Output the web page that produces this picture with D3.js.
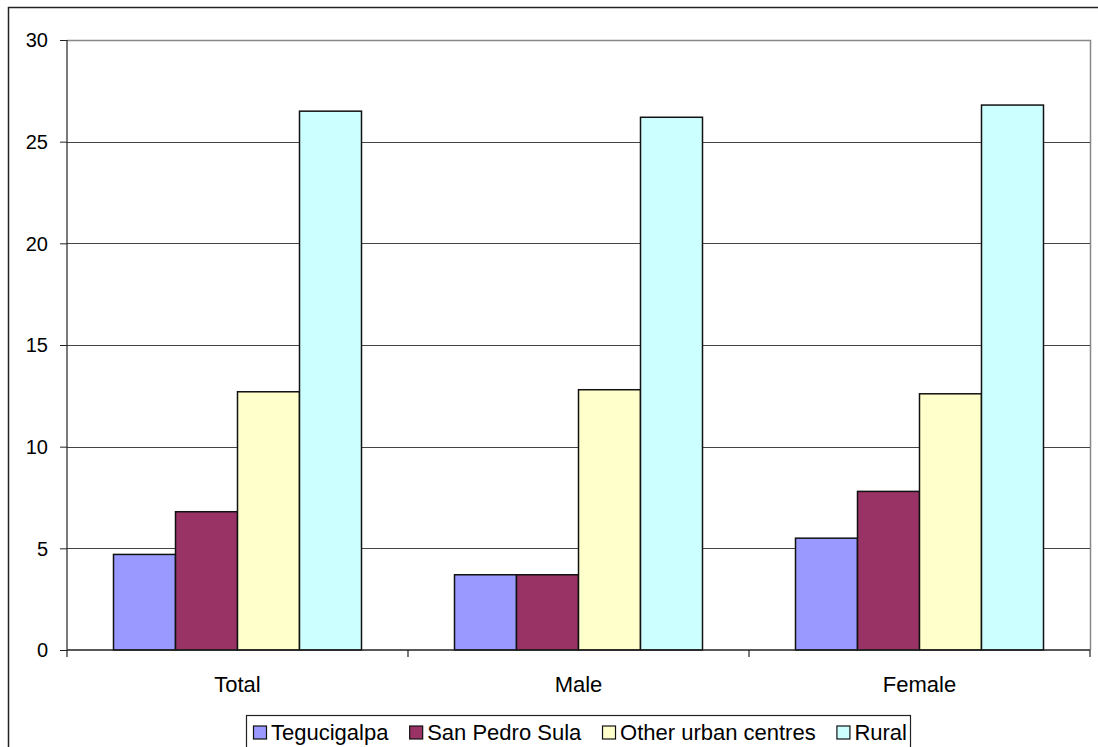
<!DOCTYPE html>
<html>
<head>
<meta charset="utf-8">
<script src="https://cdn.jsdelivr.net/npm/d3@7"></script>
<style>
  html, body { margin: 0; padding: 0; background: #fff; }
  svg { display: block; font-family: Arial, "Liberation Sans", sans-serif; }
</style>
</head>
<body>
<svg id="chart" width="1098" height="747"></svg>
<script>
// Categories, series and values
const categories = ["Total", "Male", "Female"];
const seriesNames = ["Tegucigalpa", "San Pedro Sula", "Other urban centres", "Rural"];
const tegucigalpa = [4.7, 3.7, 5.5];
const sanPedroSula = [6.8, 3.7, 7.8];
const otherUrban = [12.7, 12.8, 12.6];
const rural = [26.5, 26.2, 26.8];
const yTicks = [0, 5, 10, 15, 20, 25, 30];
const seriesColors = ["#9999FF", "#993366", "#FFFFCC", "#CCFFFF"];

const seriesValues = [tegucigalpa, sanPedroSula, otherUrban, rural];

const svg = d3.select("#chart");
const W = 1098, H = 747;
svg.append("rect").attr("width", W).attr("height", H).attr("fill", "#fff");

// Outer chart frame (runs off the right and bottom edges)
svg.append("rect")
  .attr("x", 8.5).attr("y", 7.5).attr("width", 1200).attr("height", 900)
  .attr("fill", "none").attr("stroke", "#222").attr("stroke-width", 1.5);

const plot = { left: 67, right: 1090, top: 40, bottom: 650 };

const x0 = d3.scaleBand().domain(categories).range([plot.left, plot.right]).paddingInner(0).paddingOuter(0);
const groupPad = 46.5;
const x1 = d3.scaleBand().domain(seriesNames)
  .range([groupPad, x0.bandwidth() - groupPad]).padding(0);
const y = d3.scaleLinear().domain([0, 30]).range([plot.bottom, plot.top]);

// Plot area frame (top and right)
svg.append("path")
  .attr("d", `M${plot.left},${plot.top + 0.5}H${plot.right + 0.5}V${plot.bottom}`)
  .attr("fill", "none").attr("stroke", "#888").attr("stroke-width", 1.5);

// Horizontal gridlines
svg.append("g").selectAll("line")
  .data(yTicks.filter(t => t > 0 && t < 30))
  .join("line")
  .attr("x1", plot.left).attr("x2", plot.right)
  .attr("y1", d => Math.round(y(d)) + 0.5).attr("y2", d => Math.round(y(d)) + 0.5)
  .attr("stroke", "#444").attr("stroke-width", 1);

// Bars
const groups = svg.append("g").selectAll("g")
  .data(categories)
  .join("g")
  .attr("transform", d => `translate(${x0(d)},0)`);

groups.selectAll("rect")
  .data((c, ci) => seriesNames.map((s, si) => ({ s, si, v: seriesValues[si][ci] })))
  .join("rect")
  .attr("x", d => x1(d.s))
  .attr("y", d => y(d.v))
  .attr("width", x1.bandwidth())
  .attr("height", d => y(0) - y(d.v))
  .attr("fill", d => seriesColors[d.si])
  .attr("stroke", "#111").attr("stroke-width", 1.5);

// Y axis
const yAxis = d3.axisLeft(y).tickValues(yTicks).tickSize(7).tickPadding(12);
const gy = svg.append("g").attr("transform", `translate(${plot.left},0)`).call(yAxis);
gy.select(".domain").attr("d", `M0,${plot.top}V${plot.bottom + 7}`).attr("stroke", "#222").attr("stroke-width", 1.2);
gy.selectAll(".tick line").attr("stroke", "#222");
gy.selectAll(".tick text").attr("font-size", 20).attr("font-family", "Arial, 'Liberation Sans', sans-serif").attr("fill", "#000").attr("dy", "0.34em");

// X axis: ticks on category boundaries
const xAxisG = svg.append("g").attr("transform", `translate(0,${plot.bottom})`);
xAxisG.append("line")
  .attr("x1", plot.left).attr("x2", plot.right)
  .attr("stroke", "#222").attr("stroke-width", 1.5);
xAxisG.selectAll("line.tick")
  .data(categories)
  .join("line").attr("class", "tick")
  .attr("x1", d => x0(d) + x0.bandwidth()).attr("x2", d => x0(d) + x0.bandwidth())
  .attr("y1", 0).attr("y2", 7)
  .attr("stroke", "#222").attr("stroke-width", 1.2);
xAxisG.selectAll("text")
  .data(categories)
  .join("text")
  .attr("x", d => x0(d) + x0.bandwidth() / 2)
  .attr("y", 42)
  .attr("text-anchor", "middle")
  .attr("font-size", 22)
  .attr("fill", "#000")
  .text(d => d);

// Legend
const legend = { x: 246, y: 715, w: 664 };
svg.append("rect")
  .attr("x", legend.x + 0.5).attr("y", legend.y + 0.5)
  .attr("width", legend.w).attr("height", 60)
  .attr("fill", "#fff").attr("stroke", "#222").attr("stroke-width", 1.2);

const lg = svg.append("g");
const items = lg.selectAll("g").data(seriesNames).join("g");
items.append("rect")
  .attr("width", 13).attr("height", 13)
  .attr("y", legend.y + 11)
  .attr("fill", (d, i) => seriesColors[i])
  .attr("stroke", "#111").attr("stroke-width", 1.2);
items.append("text")
  .attr("y", legend.y + 25)
  .attr("font-size", 22)
  .attr("fill", "#000")
  .text(d => d);

// Lay items out left to right, spread across the legend box
const sq = 13, gapSq = 5, padL = 7, padR = 3;
const widths = [];
items.select("text").each(function () { widths.push(this.getComputedTextLength()); });
const contentW = d3.sum(widths) + seriesNames.length * (sq + gapSq);
const between = (legend.w - padL - padR - contentW) / (seriesNames.length - 1);
let cx = legend.x + padL;
items.each(function (d, i) {
  const g = d3.select(this);
  g.select("rect").attr("x", cx + 0.5);
  g.select("text").attr("x", cx + sq + gapSq);
  cx += sq + gapSq + widths[i] + between;
});
</script>
</body>
</html>
